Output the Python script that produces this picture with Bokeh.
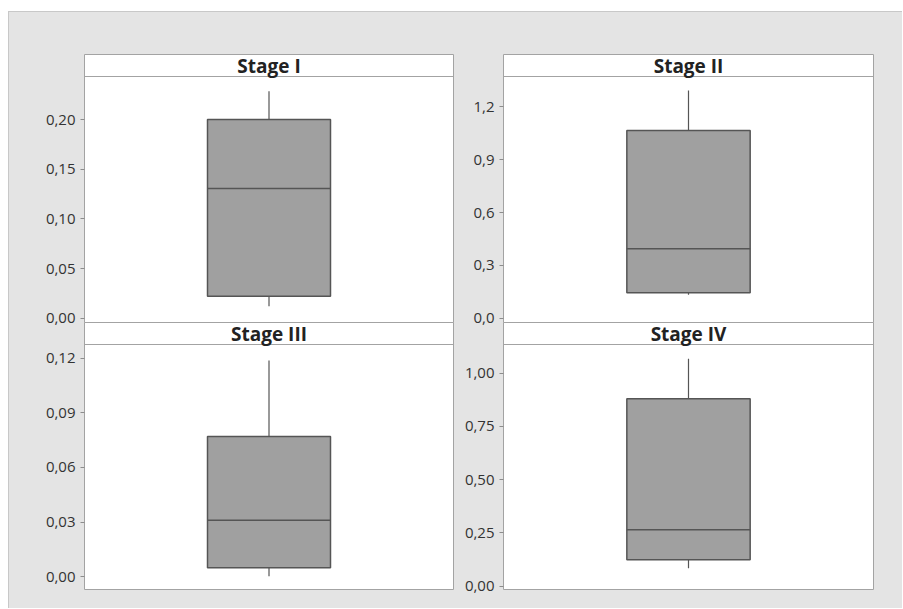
from bokeh.plotting import figure
from bokeh.layouts import row, column
from bokeh.models import ColumnDataSource, Span, Label, FixedTicker
from bokeh.embed import file_html
from bokeh.resources import INLINE

# ---- data ----
stages = ["Stage I", "Stage II", "Stage III", "Stage IV"]
lower_whisker = [0.0121, 0.133, 0.0003, 0.0845]
q1 = [0.0221, 0.144, 0.0049, 0.124]
median = [0.1305, 0.394, 0.0311, 0.265]
q3 = [0.200, 1.065, 0.0770, 0.880]
upper_whisker = [0.2284, 1.292, 0.1187, 1.0676]

tick_values = [
    [0.00, 0.05, 0.10, 0.15, 0.20],
    [0.0, 0.3, 0.6, 0.9, 1.2],
    [0.00, 0.03, 0.06, 0.09, 0.12],
    [0.00, 0.25, 0.50, 0.75, 1.00],
]
tick_labels = [
    ["0,00", "0,05", "0,10", "0,15", "0,20"],
    ["0,0", "0,3", "0,6", "0,9", "1,2"],
    ["0,00", "0,03", "0,06", "0,09", "0,12"],
    ["0,00", "0,25", "0,50", "0,75", "1,00"],
]
# axis limits of each panel's data area (bottom, top)
y_bottom = [-0.0043, -0.0244, -0.00697, -0.0155]
y_top = [0.2433, 1.372, 0.1275, 1.1347]

# ---- style / layout ----
BG = "#e4e4e4"
EDGE = "#a3a3a3"
BOX_FILL = "#a0a0a0"
BOX_LINE = "#555555"
STRIP_H = 22
FONT = "Open Sans"
OVERLAP = 10

frame_w = [369, 370, 369, 370]
frame_h = [268, 268, 267, 267]
border_left = [75, 46, 75, 46]
border_right = [4, 29, 4, 29]
border_top = [42, 42, 0, 0]
border_bottom = [OVERLAP, OVERLAP, 19, 19]


def make_panel(i):
    plot_h = frame_h[i] - STRIP_H
    px_per_unit = plot_h / (y_top[i] - y_bottom[i])
    y_end = y_top[i] + STRIP_H / px_per_unit
    p = figure(
        frame_width=frame_w[i], frame_height=frame_h[i],
        min_border_left=border_left[i], min_border_right=border_right[i],
        min_border_top=border_top[i], min_border_bottom=border_bottom[i],
        x_range=(-1.5, 1.5), y_range=(y_bottom[i], y_end),
        output_backend="svg", toolbar_location=None, tools="",
        background_fill_color="white", border_fill_color=BG,
    )
    if i >= 2:
        p.border_fill_alpha = 0
    p.outline_line_color = EDGE
    p.outline_line_width = 1
    p.xaxis.visible = False
    p.xgrid.visible = False
    p.ygrid.visible = False

    ax = p.yaxis[0]
    ax.ticker = FixedTicker(ticks=tick_values[i])
    ax.major_label_overrides = {v: s for v, s in zip(tick_values[i], tick_labels[i])}
    ax.axis_line_color = None
    ax.major_tick_in = 0
    ax.major_tick_out = 4
    ax.major_tick_line_color = "#8c8c8c"
    ax.minor_tick_line_color = None
    ax.major_label_standoff = 5
    ax.major_label_text_font = FONT
    ax.major_label_text_font_size = "15px"
    ax.major_label_text_color = "#333333"

    src = ColumnDataSource(dict(
        x=[0.0], lo=[lower_whisker[i]], q1=[q1[i]], med=[median[i]],
        q3=[q3[i]], hi=[upper_whisker[i]], x0=[-0.5], x1=[0.5],
    ))
    p.segment(x0="x", y0="q3", x1="x", y1="hi", source=src,
              line_color=BOX_LINE, line_width=1.2)
    p.segment(x0="x", y0="lo", x1="x", y1="q1", source=src,
              line_color=BOX_LINE, line_width=1.2)
    p.vbar(x="x", width=1.0, bottom="q1", top="q3", source=src,
           fill_color=BOX_FILL, line_color=BOX_LINE, line_width=1.5)
    p.segment(x0="x0", y0="med", x1="x1", y1="med", source=src,
              line_color=BOX_LINE, line_width=1.5)

    p.add_layout(Span(location=y_top[i], dimension="width",
                      line_color=EDGE, line_width=1))
    p.add_layout(Label(x=0, y=y_top[i] + (STRIP_H / 2) / px_per_unit,
                       text=stages[i], text_align="center",
                       text_baseline="middle", text_font=FONT,
                       text_font_size="19px", text_font_style="bold",
                       text_color="#222222"))
    return p


panels = [make_panel(i) for i in range(4)]
layout = column(
    row(panels[0], panels[1]),
    row(panels[2], panels[3], margin=(-OVERLAP, 0, 0, 0)),
    margin=(11, 0, 0, 8),
    styles={"background": BG, "border-top": "1px solid #c8c8c8",
            "border-left": "1px solid #c8c8c8"},
)

open("out.html", "w").write(file_html(layout, INLINE))
